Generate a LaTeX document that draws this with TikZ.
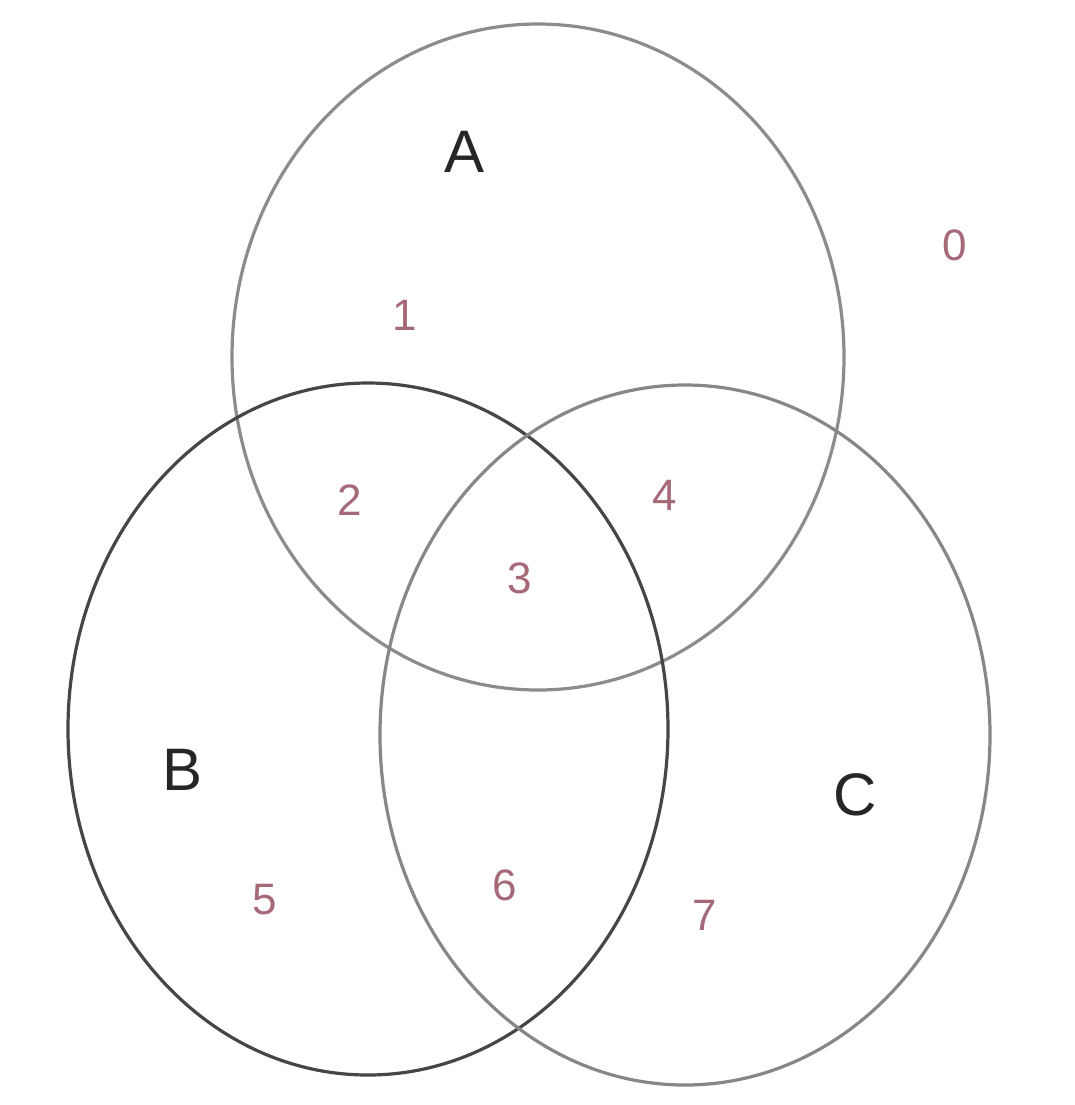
\documentclass[tikz,border=0pt]{standalone}
\usepackage{fontspec}
\setmainfont{Liberation Sans}
\definecolor{numred}{RGB}{165,105,120}
\definecolor{lineA}{RGB}{140,140,140}
\definecolor{lineB}{RGB}{70,70,70}
\definecolor{lineC}{RGB}{135,135,135}
\begin{document}
\begin{tikzpicture}[x=0.5pt,y=-0.5pt,
  setline/.style={line width=1.6pt},
  setlabel/.style={font=\fontsize{30}{32}\selectfont, text=black!85},
  regionnum/.style={font=\fontsize{22}{24}\selectfont, text=numred}]
\useasboundingbox (0,0) rectangle (1075,1105);
\fill[white] (0,0) rectangle (1075,1105);
\draw[setline, lineA] (538,357) ellipse [x radius=153pt, y radius=166.5pt];
\draw[setline, lineB] (368,729) ellipse [x radius=150pt, y radius=173pt];
\draw[setline, lineC] (685,735) ellipse [x radius=152.5pt, y radius=175pt];
\node[setlabel] (lA) at (465,152) {A};
\node[setlabel] (lB) at (183,770) {B};
\node[setlabel] (lC) at (855,795) {C};
\node[regionnum] (n0) at (955,245) {0};
\node[regionnum] (n1) at (405,315) {1};
\node[regionnum] (n2) at (350,500) {2};
\node[regionnum] (n3) at (520,578) {3};
\node[regionnum] (n4) at (665,495) {4};
\node[regionnum] (n5) at (265,900) {5};
\node[regionnum] (n6) at (505,885) {6};
\node[regionnum] (n7) at (705,915) {7};
\end{tikzpicture}
\end{document}
